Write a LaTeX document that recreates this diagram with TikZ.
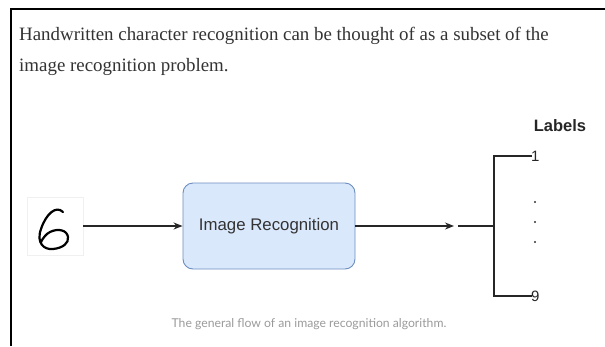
\documentclass[tikz,border=0pt]{standalone}
\usepackage{fontspec}
\usepackage{xcolor}
\usetikzlibrary{arrows.meta, positioning}
\setmainfont{Liberation Serif}
\newfontfamily\diagfont{Liberation Sans}
\newfontfamily\capfont{Lato}
\definecolor{textgray}{HTML}{333333}
\definecolor{boxfill}{HTML}{DAE8FC}
\definecolor{boxline}{HTML}{6C8EBF}
\definecolor{capgray}{HTML}{9A9A9A}

\begin{document}
\begin{tikzpicture}[x=1pt, y=-1pt, >={Stealth[length=9pt, width=7pt]},
    flow/.style={->, line width=1.3pt, black!85},
    fork/.style={line width=1.8pt, black!85, line cap=rect},
    recogbox/.style={draw=boxline, fill=boxfill, rounded corners=10pt, line width=0.9pt,
      minimum width=172pt, minimum height=86pt, font=\diagfont\fontsize{16.8}{18}\selectfont,
      text=textgray},
    leaf/.style={inner sep=0pt, anchor=west, font=\diagfont\fontsize{15}{17}\selectfont, black!85},
    intro/.style={anchor=base west, inner sep=0pt, text=textgray, font=\fontsize{18.9}{22}\selectfont}]
    \useasboundingbox (0,0) rectangle (605,346);
    % frame of the text block
    \draw[line width=2.2pt] (11,346) -- (11,9) -- (605,9);
    % intro sentence
    \node[intro] (intro1) at (19,40) {Handwritten character recognition can be thought of as a subset of the};
    \node[intro] (intro2) at (19,71) {image recognition problem.};
    % input digit
    \node[draw=gray!12, line width=0.8pt, minimum width=56pt, minimum height=58pt] (digit) at (55,226) {};
    \draw[line width=2.2pt, line cap=round, line join=round]
      (63,212) .. controls (56,205) and (46,214) .. (41,229)
      .. controls (36,243) and (44,250) .. (53,249)
      .. controls (63,248) and (69,243) .. (68,237)
      .. controls (67,230) and (58,228) .. (50,232)
      .. controls (46,234) and (43,238) .. (41,242);
    % recognition step
    \node[recogbox] (recog) at (269,226) {Image Recognition};
    \draw[flow] (digit) -- (recog);
    % output labels
    \coordinate (tip) at (454,226);
    \coordinate (stem) at (459,226);
    \coordinate (joint) at (494,226);
    \draw[flow] (recog) -- (tip);
    \node[font=\diagfont\bfseries\fontsize{16.5}{18}\selectfont, black!85] (labels) at (560,126) {Labels};
    \node[leaf] (lab1) at (531,156) {1};
    \node[leaf] (lab9) at (531,296) {9};
    \draw[fork] (stem) -- (joint);
    \draw[fork] (lab1.west) -| (joint) |- (lab9.west);
    \foreach \y in {202,222,242}
      \fill[black!80] (535,\y) circle (1.2pt);
    % caption
    \node[font=\capfont\fontsize{12.2}{14}\selectfont, text=capgray] (caption) at (309,324)
      {The general flow of an image recognition algorithm.};
\end{tikzpicture}
\end{document}
